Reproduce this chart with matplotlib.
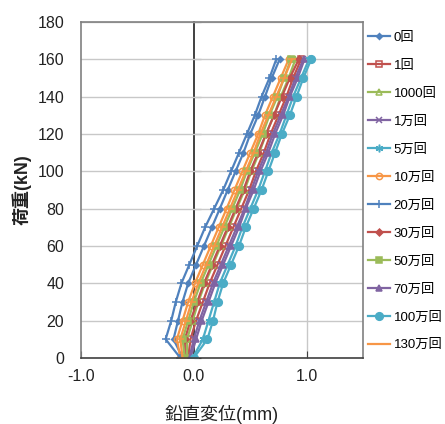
import numpy as np
import matplotlib.pyplot as plt

plt.rcParams['font.family'] = ['Liberation Sans', 'Noto Sans CJK JP']

# load steps (kN)
load = [0, 10, 20, 30, 40, 50, 60, 70, 80, 90, 100, 110, 120, 130, 140, 150, 160]

# vertical displacement (mm)
disp_0 = [-0.10, -0.18, -0.14, -0.10, -0.05, 0.02, 0.09, 0.16, 0.23, 0.30, 0.37, 0.44, 0.50, 0.57, 0.63, 0.69, 0.76]
disp_1 = [-0.05, -0.03, 0.02, 0.08, 0.14, 0.21, 0.28, 0.35, 0.42, 0.49, 0.55, 0.62, 0.68, 0.75, 0.82, 0.88, 0.95]
disp_1000 = [-0.06, -0.06, -0.01, 0.04, 0.10, 0.17, 0.24, 0.31, 0.38, 0.45, 0.51, 0.58, 0.64, 0.71, 0.77, 0.84, 0.90]
disp_1man = [-0.04, 0.00, 0.05, 0.11, 0.17, 0.24, 0.31, 0.38, 0.45, 0.51, 0.57, 0.64, 0.70, 0.77, 0.84, 0.90, 0.97]
disp_5man = [-0.01, 0.08, 0.13, 0.18, 0.23, 0.30, 0.37, 0.43, 0.50, 0.57, 0.63, 0.69, 0.76, 0.82, 0.88, 0.95, 1.02]
disp_10man = [-0.12, -0.15, -0.10, -0.05, 0.01, 0.08, 0.15, 0.22, 0.29, 0.36, 0.43, 0.50, 0.57, 0.63, 0.70, 0.77, 0.84]
disp_20man = [-0.12, -0.25, -0.20, -0.16, -0.11, -0.04, 0.03, 0.10, 0.18, 0.26, 0.33, 0.40, 0.47, 0.54, 0.60, 0.67, 0.73]
disp_30man = [-0.08, -0.08, -0.03, 0.03, 0.09, 0.16, 0.23, 0.30, 0.37, 0.44, 0.50, 0.57, 0.64, 0.71, 0.78, 0.85, 0.93]
disp_50man = [-0.08, -0.10, -0.05, 0.00, 0.06, 0.13, 0.20, 0.27, 0.34, 0.41, 0.47, 0.54, 0.61, 0.67, 0.74, 0.80, 0.86]
disp_70man = [-0.03, 0.02, 0.07, 0.13, 0.19, 0.26, 0.33, 0.40, 0.46, 0.53, 0.59, 0.66, 0.72, 0.79, 0.85, 0.92, 0.98]
disp_100man = [0.00, 0.12, 0.17, 0.21, 0.26, 0.33, 0.40, 0.46, 0.53, 0.60, 0.66, 0.72, 0.78, 0.85, 0.91, 0.97, 1.04]
disp_130man = [-0.10, -0.12, -0.07, -0.02, 0.04, 0.11, 0.18, 0.25, 0.32, 0.39, 0.46, 0.53, 0.59, 0.66, 0.73, 0.80, 0.87]

labels = ['0回', '1回', '1000回', '1万回', '5万回', '10万回', '20万回',
          '30万回', '50万回', '70万回', '100万回', '130万回']
series = [disp_0, disp_1, disp_1000, disp_1man, disp_5man, disp_10man, disp_20man,
          disp_30man, disp_50man, disp_70man, disp_100man, disp_130man]

blue, red, green, purple, cyan, orange = '#4F81BD', '#C0504D', '#9BBB59', '#8064A2', '#4BACC6', '#F79646'
colors = [blue, red, green, purple, cyan, orange,
          blue, red, green, purple, cyan, orange]
# (marker, size, filled)
markers = [('D', 3, True), ('s', 4.5, False), ('^', 4.5, False), ('x', 4.5, True),
           ((6, 2, 0), 5.5, True), ('o', 4.5, False), ('+', 5.5, True),
           ('D', 3.5, True), ('s', 4.5, True), ('^', 5, True), ('o', 5.5, True), ('_', 5.5, True)]

fig = plt.figure(figsize=(4.45, 4.24), dpi=100)
ax = fig.add_axes([0.182, 0.156, 0.634, 0.792])

for x, lab, c, (m, ms, filled) in zip(series, labels, colors, markers):
    ax.plot(x, load, color=c, lw=1.6, marker=m, ms=ms, mew=1.1,
            mfc=c if filled else 'none', mec=c, label=lab)

ax.set_xlim(-1.0, 1.5)
ax.set_ylim(0, 180)
ax.set_xticks([-1.0, 0.0, 1.0])
ax.set_xticklabels(['-1.0', '0.0', '1.0'])
ax.set_yticks(np.arange(0, 181, 20))

ax.grid(axis='y', color='#C8C8C8', lw=1.0)
ax.axvline(1.0, color='#C8C8C8', lw=1.0, zorder=0)
ax.set_axisbelow(True)

for s in ['top', 'right', 'left']:
    ax.spines[s].set_color('#808080')
    ax.spines[s].set_linewidth(1.2)
ax.spines['bottom'].set_color('#404040')
ax.spines['bottom'].set_linewidth(1.2)

ax.tick_params(axis='y', length=0, pad=12, labelsize=11.5, labelcolor='#222222')
ax.tick_params(axis='x', direction='in', length=5, color='#404040', pad=8,
               labelsize=11.5, labelcolor='#222222')

# vertical axis line crossing at x = 0
sec = ax.secondary_yaxis(0.4)
sec.spines['left'].set_color('#202020')
sec.spines['left'].set_linewidth(1.2)
sec.set_yticks(np.arange(0, 181, 20))
sec.tick_params(direction='in', length=5, color='#202020', labelleft=False)

ax.set_ylabel('荷重(kN)', fontsize=13, fontweight='bold', color='#222222', labelpad=4)
ax.set_xlabel('鉛直変位(mm)', fontsize=13, color='#222222', labelpad=15)

ax.legend(loc='upper left', bbox_to_anchor=(0.828, 0.925), bbox_transform=fig.transFigure,
          frameon=False, fontsize=9.5, handlelength=1.6, handletextpad=0.3,
          labelspacing=1.19, borderaxespad=0, borderpad=0)

fig.savefig('out.png', dpi=100)
